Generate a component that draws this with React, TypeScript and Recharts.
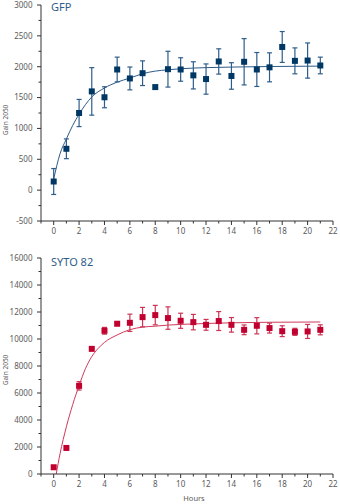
import React from 'react';
import { ComposedChart, Scatter, Line, XAxis, YAxis, ErrorBar, ZAxis } from 'recharts';

// measured points (hours 0..21)
const hours = [0, 1, 2, 3, 4, 5, 6, 7, 8, 9, 10, 11, 12, 13, 14, 15, 16, 17, 18, 19, 20, 21];
const gfpMean = [140, 670, 1250, 1600, 1505, 1955, 1810, 1895, 1670, 1960, 1955, 1860, 1800, 2085, 1850, 2080, 1955, 1990, 2320, 2095, 2100, 2020];
const gfpErr = [210, 160, 220, 385, 170, 200, 185, 200, 0, 290, 190, 220, 245, 205, 215, 375, 275, 235, 250, 210, 285, 135];
const sytoMean = [500, 1930, 6530, 9270, 10610, 11130, 11200, 11620, 11770, 11550, 11350, 11250, 11050, 11330, 11050, 10680, 10980, 10810, 10580, 10530, 10560, 10680];
const sytoErr = [0, 0, 310, 0, 250, 0, 640, 720, 720, 830, 560, 570, 400, 700, 540, 360, 600, 370, 400, 260, 520, 370];

// fitted curves
const gfpFitHours = [0, 0.5, 1, 1.5, 2, 2.5, 3, 4, 5, 6, 7, 8, 9, 10, 12, 14, 17, 21];
const gfpFit = [180, 590, 830, 1050, 1230, 1385, 1510, 1655, 1750, 1816, 1886, 1929, 1950, 1967, 1985, 1994, 2003, 2010];
const sytoFitHours = [0.2, 0.5, 1, 1.5, 2, 2.5, 3, 3.5, 4, 5, 6, 7, 8, 9, 10, 12, 14, 17, 21];
const sytoFit = [0, 1500, 3500, 5150, 6550, 7800, 8700, 9300, 9750, 10300, 10690, 10880, 10950, 11030, 11080, 11150, 11200, 11240, 11260];

const xTicks = [-1, 0, 1, 2, 3, 4, 5, 6, 7, 8, 9, 10, 11, 12, 13, 14, 15, 16, 17, 18, 19, 20, 21, 22];
const gfpYTicks = [-500, -250, 0, 250, 500, 750, 1000, 1250, 1500, 1750, 2000, 2250, 2500, 2750, 3000];
const sytoYTicks = [0, 1000, 2000, 3000, 4000, 5000, 6000, 7000, 8000, 9000, 10000, 11000, 12000, 13000, 14000, 15000, 16000];

const gfpData = hours.map((h, i) => ({ x: h, y: gfpMean[i], err: gfpErr[i] }));
const sytoData = hours.map((h, i) => ({ x: h, y: sytoMean[i], err: sytoErr[i] }));
const gfpFitData = gfpFitHours.map((h, i) => ({ x: h, y: gfpFit[i] }));
const sytoFitData = sytoFitHours.map((h, i) => ({ x: h, y: sytoFit[i] }));

const FONT = '"Noto Sans", sans-serif';
const AXIS = '#333333';
const TEXT = '#5a5a5a';

function XTick(props: any) {
    const { x, y, payload } = props;
    const v = payload.value;
    const major = v >= 0 && v % 2 === 0;
    return (
        <g>
            <line x1={x} x2={x} y1={y} y2={y + (major ? 4 : 2.5)} stroke={AXIS} />
            {major && (
                <text x={x} y={y + 13} textAnchor="middle" fontSize={8} fill={TEXT} fontFamily={FONT}>
                    {v}
                </text>
            )}
        </g>
    );
}

function makeYTick(step: number) {
    return (props: any) => {
        const { x, y, payload } = props;
        const v = payload.value;
        const major = v % step === 0;
        return (
            <g>
                <line x1={x} x2={x - (major ? 4 : 2.5)} y1={y} y2={y} stroke={AXIS} />
                {major && (
                    <text x={x - 8.5} y={y} dy="0.35em" textAnchor="end" fontSize={8} fill={TEXT} fontFamily={FONT}>
                        {v}
                    </text>
                )}
            </g>
        );
    };
}

const yLabel = () => (
    <text x={7.5} y={120} transform="rotate(-90, 7.5, 120)" textAnchor="middle" fontSize={6.5} fill={TEXT} fontFamily={FONT}>
        Gain 2050
    </text>
);

function squareShape(color: string) {
    return (props: any) => {
        const { cx, cy } = props;
        return <rect x={cx - 3} y={cy - 3} width={6} height={6} fill={color} />;
    };
}

export default function App() {
    return (
        <div style={{ position: 'absolute', left: 0, top: 0, width: 340, height: 504, background: '#fff' }}>
            <ComposedChart width={340} height={245} margin={{ top: 5, right: 7, bottom: 0, left: 0 }}>
                <XAxis
                    type="number"
                    dataKey="x"
                    domain={[-1, 22]}
                    ticks={xTicks}
                    interval={0}
                    height={24}
                    tickSize={0}
                    tickMargin={0}
                    tick={XTick}
                    axisLine={{ stroke: AXIS }}
                    allowDataOverflow
                />
                <YAxis
                    type="number"
                    dataKey="y"
                    domain={[-500, 3000]}
                    ticks={gfpYTicks}
                    interval={0}
                    width={41}
                    tickSize={0}
                    tickMargin={0}
                    tick={makeYTick(500)}
                    axisLine={{ stroke: AXIS }}
                    label={{ value: 'Gain 2050', content: yLabel }}
                    allowDataOverflow
                />
                <ZAxis range={[36, 36]} />
                <Line
                    data={gfpFitData}
                    dataKey="y"
                    type="monotone"
                    stroke="#2d5b88"
                    strokeWidth={1}
                    dot={false}
                    activeDot={false}
                    isAnimationActive={false}
                />
                <Scatter data={gfpData} dataKey="y" shape={squareShape('#003865')} isAnimationActive={false}>
                    <ErrorBar dataKey="err" direction="y" width={2.5} stroke="#2f5d8a" strokeWidth={1.2} />
                </Scatter>
                <text x={51} y={11} fontSize={11} fill="#2f5d8a" fontFamily={FONT}>GFP</text>
            </ComposedChart>
            <div style={{ position: 'absolute', left: 0, top: 250 }}>
                <ComposedChart width={340} height={254} margin={{ top: 8, right: 7, bottom: 0, left: 0 }}>
                    <XAxis
                        type="number"
                        dataKey="x"
                        domain={[-1, 22]}
                        ticks={xTicks}
                        interval={0}
                        height={30}
                        tickSize={0}
                        tickMargin={0}
                        tick={XTick}
                        axisLine={{ stroke: AXIS }}
                        label={{
                            value: 'Hours',
                            content: () => (
                                <text x={194} y={251} textAnchor="middle" fontSize={7.5} fill={TEXT} fontFamily={FONT}>
                                    Hours
                                </text>
                            ),
                        }}
                        allowDataOverflow
                    />
                    <YAxis
                        type="number"
                        dataKey="y"
                        domain={[0, 16000]}
                        ticks={sytoYTicks}
                        interval={0}
                        width={41}
                        tickSize={0}
                        tickMargin={0}
                        tick={makeYTick(2000)}
                        axisLine={{ stroke: AXIS }}
                        label={{ value: 'Gain 2050', content: yLabel }}
                        allowDataOverflow
                    />
                    <ZAxis range={[36, 36]} />
                    <Line
                        data={sytoFitData}
                        dataKey="y"
                        type="monotone"
                        stroke="#cf3a5a"
                        strokeWidth={1}
                        dot={false}
                        activeDot={false}
                        isAnimationActive={false}
                    />
                    <Scatter data={sytoData} dataKey="y" shape={squareShape('#c2002f')} isAnimationActive={false}>
                        <ErrorBar dataKey="err" direction="y" width={2.5} stroke="#cc3355" strokeWidth={1.2} />
                    </Scatter>
                    <text x={51} y={265.7 - 250} fontSize={11} fill="#2f5d8a" fontFamily={FONT}>SYTO 82</text>
                </ComposedChart>
            </div>
        </div>
    );
}
